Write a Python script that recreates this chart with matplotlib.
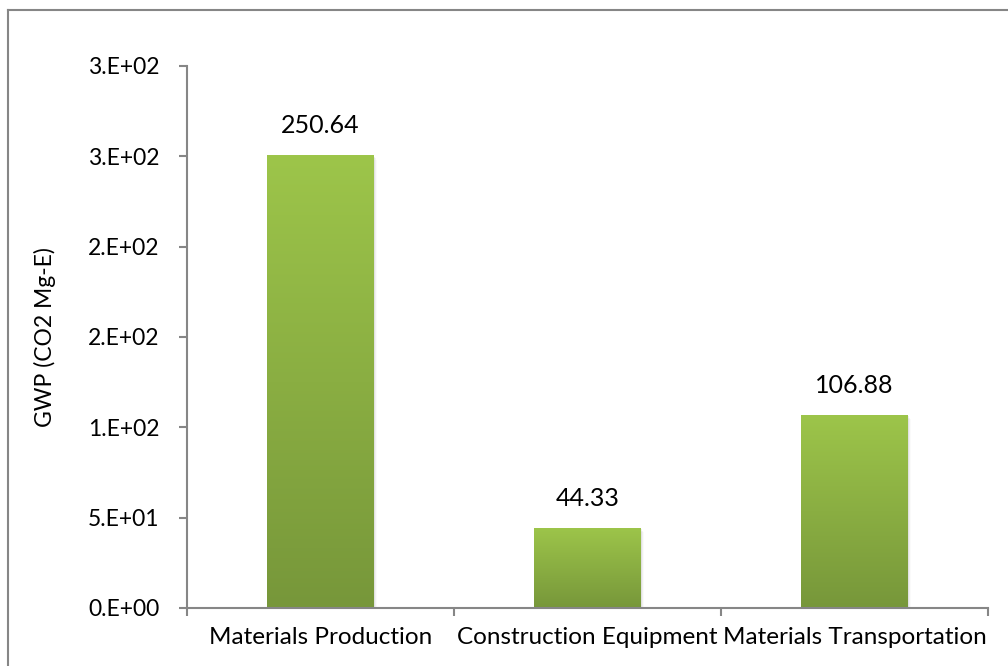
import matplotlib.pyplot as plt
import numpy as np
from matplotlib.colors import LinearSegmentedColormap
from matplotlib.patches import Rectangle

categories = ["Materials Production", "Construction Equipment", "Materials Transportation"]
values = [250.64, 44.33, 106.88]
value_labels = ["250.64", "44.33", "106.88"]
yticks = [0, 50, 100, 150, 200, 250, 300]
ytick_labels = ["0.E+00", "5.E+01", "1.E+02", "2.E+02", "2.E+02", "3.E+02", "3.E+02"]

plt.rcParams['font.family'] = ['Lato', 'DejaVu Sans']

fig = plt.figure(figsize=(10.08, 6.66), dpi=100)
ax = fig.add_axes([187/1008, 1-608/666, 801/1008, 542/666])

# outer chart frame (top and left edges visible)
fig.add_artist(plt.Line2D([8/1008, 8/1008], [0, 1-10/666], color="#868686", lw=1.5))
fig.add_artist(plt.Line2D([8/1008, 1], [1-10/666, 1-10/666], color="#868686", lw=1.5))

grad = LinearSegmentedColormap.from_list("g", ["#77973a", "#9dc54a"])
x = np.arange(len(categories))
width = 0.4
for xi, v, lab in zip(x, values, value_labels):
    # soft shadow
    for k, a in enumerate([0.06, 0.04, 0.02]):
        ax.add_patch(Rectangle((xi - width/2 + 0.004*(k+1), 0), width, v - 0.8*(k+1),
                               color="black", alpha=a, lw=0, zorder=1))
    bar = ax.bar(xi, v, width=width, color="none", zorder=2)[0]
    g = np.linspace(0, 1, 256).reshape(-1, 1)
    im = ax.imshow(g, cmap=grad, origin="lower", aspect="auto",
                   extent=[xi - width/2, xi + width/2, 0, v], zorder=2)
    im.set_clip_path(bar)
    ax.text(xi, v + 10, lab, ha="center", va="bottom", fontsize=18)

ax.set_xlim(-0.5, 2.5)
ax.set_ylim(0, 300)
ax.set_yticks(yticks)
ax.set_yticklabels(ytick_labels, fontsize=16.5)
ax.set_xticks(x)
ax.set_xticklabels(categories, fontsize=17.5)
ax.set_xticks([-0.5, 0.5, 1.5, 2.5], minor=True)
ax.tick_params(axis="x", which="major", length=0, pad=14)
ax.tick_params(axis="x", which="minor", length=6, color="#868686", width=1.5)
ax.tick_params(axis="y", length=6, color="#868686", width=1.5, pad=14)
fig.text(45/1008, 1-337/666, "GWP (CO2 Mg-E)", rotation=90, ha="center", va="center",
         fontsize=16.5)
for s in ["top", "right"]:
    ax.spines[s].set_visible(False)
for s in ["left", "bottom"]:
    ax.spines[s].set_color("#868686")
    ax.spines[s].set_linewidth(1.5)

fig.savefig("out.png", dpi=100)
